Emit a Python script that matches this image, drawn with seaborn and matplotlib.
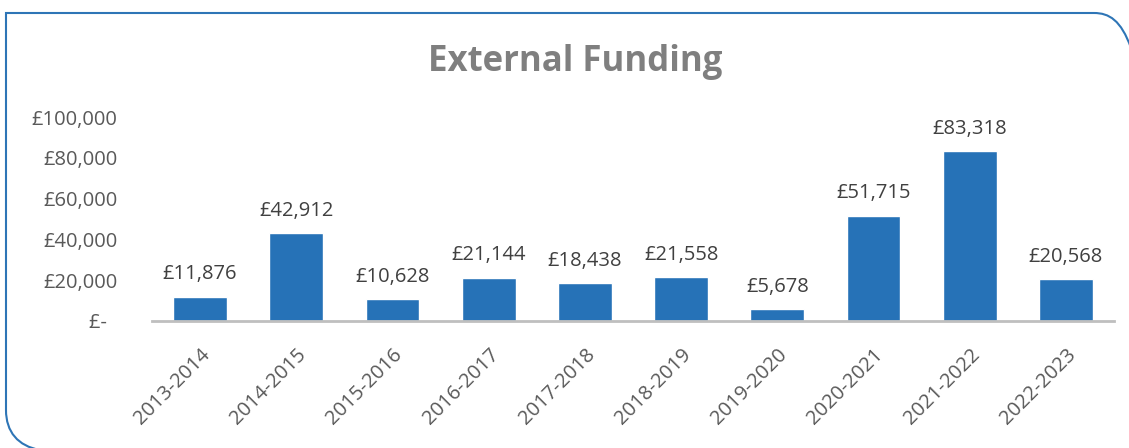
import matplotlib
matplotlib.use("Agg")
import matplotlib.pyplot as plt
import seaborn as sns
import pandas as pd
from matplotlib.path import Path
from matplotlib.patches import PathPatch

years = ['2013-2014', '2014-2015', '2015-2016', '2016-2017', '2017-2018',
         '2018-2019', '2019-2020', '2020-2021', '2021-2022', '2022-2023']
funding = [11876, 42912, 10628, 21144, 18438, 21558, 5678, 51715, 83318, 20568]
y_ticks = [0, 20000, 40000, 60000, 80000, 100000]
y_labels = ['£-  ', '£20,000', '£40,000', '£60,000', '£80,000', '£100,000']

df = pd.DataFrame({'year': years, 'funding': funding})

sns.set_style('white')
plt.rcParams['font.family'] = ['Open Sans', 'DejaVu Sans']

W, H = 1129, 448
fig = plt.figure(figsize=(W / 100, H / 100), dpi=100)

# frame border (pixel coords -> figure fraction)
def fx(x):
    return x / W

def fy(y):
    return 1 - y / H

codes = [Path.MOVETO, Path.CURVE4, Path.CURVE4, Path.CURVE4, Path.LINETO,
         Path.LINETO, Path.CURVE4, Path.CURVE4, Path.CURVE4]
verts = [(fx(W + 2), fy(48)),
         (fx(W - 8), fy(20)), (fx(W - 20), fy(13)), (fx(W - 35), fy(13)),
         (fx(6), fy(13)),
         (fx(6), fy(410)),
         (fx(6), fy(432)), (fx(18), fy(446)), (fx(40), fy(450))]
fig.patches.append(PathPatch(Path(verts, codes), transform=fig.transFigure,
                             fill=False, edgecolor='#2E75B6', linewidth=1.5))

ax = fig.add_axes([fx(152), fy(321), fx(1114 - 152), (321 - 117) / H])
sns.barplot(data=df, x='year', y='funding', color='#2672B7', width=0.56,
            saturation=1, ax=ax)

ax.set_ylim(0, 100000)
ax.set_xlim(-0.5, 9.5)
ax.set_yticks(y_ticks)
ax.set_yticklabels(y_labels)
ax.set_xlabel('')
ax.set_ylabel('')
for s in ['top', 'right', 'left']:
    ax.spines[s].set_visible(False)
ax.spines['bottom'].set_color('#BFBFBF')
ax.spines['bottom'].set_linewidth(2)
ax.tick_params(axis='both', length=0, labelcolor='#595959', labelsize=14.5)
ax.tick_params(axis='y', pad=25)
ax.tick_params(axis='x', pad=17)
plt.setp(ax.get_xticklabels(), rotation=45, ha='right', rotation_mode='anchor')

for i, v in enumerate(funding):
    ax.annotate(f'£{v:,}', (i, v), xytext=(0, 9), textcoords='offset points',
                ha='center', va='bottom', fontsize=14.5, color='#404040',
                annotation_clip=False)

fig.text(fx(575), fy(62), 'External Funding', ha='center', va='center',
         fontsize=25, fontweight='bold', color='#7F7F7F')

fig.savefig('out.png', dpi=100)
